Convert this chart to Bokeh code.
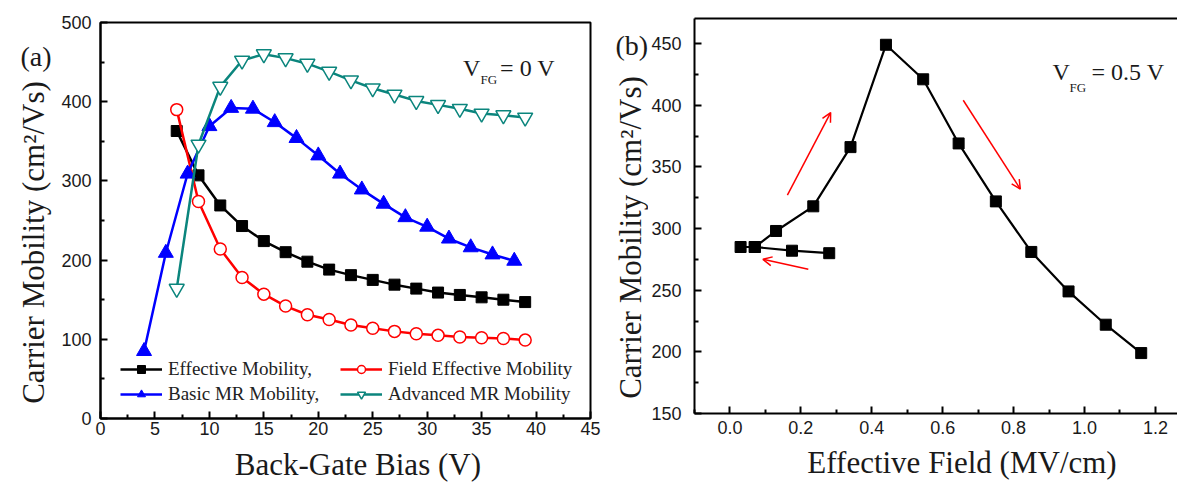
import math
from bokeh.plotting import figure
from bokeh.layouts import row, column
from bokeh.models import (Label, Legend, LegendItem, FixedTicker, LinearAxis,
                          Arrow, OpenHead, NumeralTickFormatter)
from bokeh.embed import file_html
from bokeh.resources import INLINE

# ---------------- data: panel (a) ----------------
bias_eff = [7, 9, 11, 13, 15, 17, 19, 21, 23, 25, 27, 29, 31, 33, 35, 37, 39]
mob_eff = [363, 307, 269, 243, 224, 210, 198, 188, 181, 175, 169, 164, 159, 156, 153, 150, 147]

bias_field = [7, 9, 11, 13, 15, 17, 19, 21, 23, 25, 27, 29, 31, 33, 35, 37, 39]
mob_field = [390, 274, 214, 178, 157, 142, 131, 125, 118, 114, 110, 107, 105, 103, 102, 101, 99]

bias_basic = [4, 6, 8, 10, 12, 14, 16, 18, 20, 22, 24, 26, 28, 30, 32, 34, 36, 38]
mob_basic = [85, 209, 309, 369, 392, 391, 374, 354, 332, 309, 289, 271, 254, 242, 227, 216, 207, 199]

bias_adv = [7, 9, 11, 13, 15, 17, 19, 21, 23, 25, 27, 29, 31, 33, 35, 37, 39]
mob_adv = [164, 346, 419, 452, 460, 455, 448, 438, 427, 417, 409, 401, 396, 391, 385, 383, 380]

series_names = ["Effective Mobility,", "Field Effective Mobility",
                "Basic MR Mobility,", "Advanced MR Mobility"]

x_ticks_a = [0, 5, 10, 15, 20, 25, 30, 35, 40, 45]
y_ticks_a = [0, 100, 200, 300, 400, 500]

# ---------------- data: panel (b) ----------------
field_main = [0.03, 0.07, 0.13, 0.235, 0.34, 0.44, 0.545, 0.645, 0.75, 0.85, 0.955, 1.06, 1.16]
mob_main = [285, 285, 298, 318, 366, 449, 421, 369, 322, 281, 249, 222, 199]
field_low = [0.07, 0.175, 0.28]
mob_low = [285, 282, 280]

x_ticks_b = [0.0, 0.2, 0.4, 0.6, 0.8, 1.0, 1.2]
y_ticks_b = [150, 200, 250, 300, 350, 400, 450]

# arrows (x_start, y_start, x_end, y_end)
arrows_b = [(0.162, 327, 0.284, 394),
            (0.658, 404, 0.819, 332),
            (0.221, 267, 0.093, 275)]

y_title = "Carrier Mobility (cm\u00b2/Vs)"
x_title_a = "Back-Gate Bias (V)"
x_title_b = "Effective Field (MV/cm)"

SERIF = "Liberation Serif"
SANS = "Liberation Sans"
TEAL = "#0b857d"
TXT = "#1a1a1a"
TOTAL_H = 482


def style_axes(p, xt, xminor, yt, yminor, xstand, ystand, xfmt=None):
    p.xaxis.ticker = FixedTicker(ticks=xt, minor_ticks=xminor)
    p.yaxis.ticker = FixedTicker(ticks=yt, minor_ticks=yminor)
    if xfmt:
        p.xaxis.formatter = NumeralTickFormatter(format=xfmt)
    for ax in p.xaxis + p.yaxis:
        ax.axis_line_width = 2
        ax.axis_line_color = "black"
        ax.major_tick_in = 7
        ax.major_tick_out = 0
        ax.minor_tick_in = 4
        ax.minor_tick_out = 0
        ax.major_tick_line_width = 2
        ax.minor_tick_line_width = 2
        ax.major_tick_line_color = "black"
        ax.minor_tick_line_color = "black"
        ax.major_label_text_font = SANS
        ax.major_label_text_font_size = "18px"
        ax.major_label_text_color = TXT
    p.xaxis.major_label_standoff = xstand
    p.yaxis.major_label_standoff = ystand
    p.xgrid.grid_line_color = None
    p.ygrid.grid_line_color = None


def text_strip(w, h):
    f = figure(width=w, height=h, x_range=(0, w), y_range=(0, h), title=None,
               x_axis_type=None, y_axis_type=None, min_border=0,
               output_backend="svg", toolbar_location=None)
    f.outline_line_color = None
    return f


# ================= panel (a) =================
A_LEFT, A_FRAME_W, A_RIGHT = 46, 490, 18
A_TOP, A_FRAME_H, A_BOTTOM = 22, 396, 26
p1 = figure(frame_width=A_FRAME_W, frame_height=A_FRAME_H, x_range=(0, 45), y_range=(0, 500),
            title=None, min_border_left=A_LEFT, min_border_right=A_RIGHT,
            min_border_top=A_TOP, min_border_bottom=A_BOTTOM,
            output_backend="svg", toolbar_location=None)
p1.outline_line_color = "black"
p1.outline_line_width = 2
style_axes(p1, x_ticks_a, [v + 2.5 for v in x_ticks_a[:-1]],
           y_ticks_a, [v + 50 for v in y_ticks_a[:-1]], 3, 9)

lw = 2.5
l_eff = p1.line(bias_eff, mob_eff, line_color="black", line_width=lw)
s_eff = p1.scatter(bias_eff, mob_eff, marker="square", size=11, fill_color="black", line_color="black")
l_field = p1.line(bias_field, mob_field, line_color="red", line_width=lw)
s_field = p1.scatter(bias_field, mob_field, marker="circle", size=12, fill_color="white",
                     line_color="red", line_width=1.5)
l_basic = p1.line(bias_basic, mob_basic, line_color="blue", line_width=lw)
s_basic = p1.scatter(bias_basic, mob_basic, marker="triangle", size=15, fill_color="blue", line_color="blue")
l_adv = p1.line(bias_adv, mob_adv, line_color=TEAL, line_width=lw)
s_adv = p1.scatter(bias_adv, mob_adv, marker="inverted_triangle", size=15, fill_color="white",
                   line_color=TEAL, line_width=1.5)


def make_legend(items, loc):
    lg = Legend(items=items, location=loc)
    lg.label_text_font = SERIF
    lg.label_text_font_size = "19px"
    lg.label_text_color = "#222222"
    lg.glyph_width = 42
    lg.glyph_height = 20
    lg.label_height = 20
    lg.label_standoff = 6
    lg.spacing = 3
    lg.padding = 0
    lg.margin = 0
    lg.border_line_color = None
    lg.background_fill_alpha = 0
    return lg


leg1 = make_legend([LegendItem(label=series_names[0], renderers=[l_eff, s_eff]),
                    LegendItem(label=series_names[2], renderers=[l_basic, s_basic])], (20, 13))
leg2 = make_legend([LegendItem(label=series_names[1], renderers=[l_field, s_field]),
                    LegendItem(label=series_names[3], renderers=[l_adv, s_adv])], (240, 13))
p1.add_layout(leg1)
p1.add_layout(leg2)

p1.add_layout(Label(x=33.3, y=443, text="V", text_align="left", text_baseline="middle",
                    text_font=SERIF, text_font_size="24px", text_color=TXT))
p1.add_layout(Label(x=34.9, y=428, text="FG", text_align="left", text_baseline="middle",
                    text_font=SERIF, text_font_size="13px", text_color=TXT))
p1.add_layout(Label(x=36.7, y=443, text="= 0 V", text_align="left", text_baseline="middle",
                    text_font=SERIF, text_font_size="24px", text_color=TXT))

# side strip with panel letter and y title (a)
SIDE_A_W = 54
sideA = text_strip(SIDE_A_W, TOTAL_H)
sideA.add_layout(Label(x=20, y=TOTAL_H - 56, text="(a)", text_align="left", text_baseline="middle",
                       text_font=SERIF, text_font_size="28px", text_color=TXT))
sideA.add_layout(Label(x=33, y=TOTAL_H - 242, text=y_title, angle=math.pi / 2,
                       text_align="center", text_baseline="middle", text_font=SERIF,
                       text_font_size="31px", text_color=TXT))
# bottom strip with x title (a)
P1_H = A_TOP + A_FRAME_H + A_BOTTOM
botA = text_strip(A_LEFT + A_FRAME_W + A_RIGHT, TOTAL_H - P1_H)
botA.add_layout(Label(x=345 - SIDE_A_W, y=TOTAL_H - 463.5, text=x_title_a, text_align="center",
                      text_baseline="middle", text_font=SERIF, text_font_size="31px", text_color=TXT))

# ================= panel (b) =================
B_LEFT, B_FRAME_W = 44, 485
B_TOP, B_FRAME_H, B_BOTTOM = 18, 395, 30
p2 = figure(frame_width=B_FRAME_W, frame_height=B_FRAME_H, x_range=(-0.1, 1.268),
            y_range=(150, 470.3), title=None,
            min_border_left=B_LEFT, min_border_right=0, min_border_top=B_TOP,
            min_border_bottom=B_BOTTOM, output_backend="svg", toolbar_location=None)
p2.outline_line_color = None
style_axes(p2, x_ticks_b, [-0.1, 0.1, 0.3, 0.5, 0.7, 0.9, 1.1],
           y_ticks_b, [v + 25 for v in y_ticks_b], 7, 13, xfmt="0.0")
top_ax = LinearAxis(ticker=FixedTicker(ticks=[]), axis_line_width=2, axis_line_color="black",
                    major_tick_out=0, minor_tick_out=0, major_tick_in=0, minor_tick_in=0,
                    major_label_standoff=0, major_label_text_font_size="0px")
p2.add_layout(top_ax, "above")

p2.line(field_main, mob_main, line_color="black", line_width=2.2)
p2.scatter(field_main, mob_main, marker="square", size=11, fill_color="black", line_color="black")
p2.line(field_low, mob_low, line_color="black", line_width=2.2)
p2.scatter(field_low, mob_low, marker="square", size=11, fill_color="black", line_color="black")

for xs, ys, xe, ye in arrows_b:
    p2.add_layout(Arrow(x_start=xs, y_start=ys, x_end=xe, y_end=ye, line_color="red",
                        line_width=1.5,
                        end=OpenHead(size=9, line_color="red", line_width=1.5)))

p2.add_layout(Label(x=0.910, y=427, text="V", text_align="left", text_baseline="middle",
                    text_font=SERIF, text_font_size="24px", text_color=TXT))
p2.add_layout(Label(x=0.958, y=414, text="FG", text_align="left", text_baseline="middle",
                    text_font=SERIF, text_font_size="13px", text_color=TXT))
p2.add_layout(Label(x=1.020, y=427, text="= 0.5 V", text_align="left", text_baseline="middle",
                    text_font=SERIF, text_font_size="24px", text_color=TXT))

SIDE_B_X = SIDE_A_W + A_LEFT + A_FRAME_W + A_RIGHT
SIDE_B_W = 692 - B_LEFT - SIDE_B_X
sideB = text_strip(SIDE_B_W, TOTAL_H)
sideB.add_layout(Label(x=615 - SIDE_B_X, y=TOTAL_H - 44.5, text="(b)", text_align="left",
                       text_baseline="middle", text_font=SERIF, text_font_size="28px", text_color=TXT))
sideB.add_layout(Label(x=630 - SIDE_B_X, y=TOTAL_H - 237, text=y_title, angle=math.pi / 2,
                       text_align="center", text_baseline="middle", text_font=SERIF,
                       text_font_size="31px", text_color=TXT))
P2_H = B_TOP + B_FRAME_H + B_BOTTOM
botB = text_strip(B_LEFT + B_FRAME_W, TOTAL_H - P2_H)
botB.add_layout(Label(x=941 - 692 + B_LEFT, y=TOTAL_H - 461.5, text=x_title_b, text_align="center",
                      text_baseline="middle", text_font=SERIF, text_font_size="31px", text_color=TXT))

layout = row(sideA, column(p1, botA), sideB, column(p2, botB))
open("out.html", "w").write(file_html(layout, INLINE))
